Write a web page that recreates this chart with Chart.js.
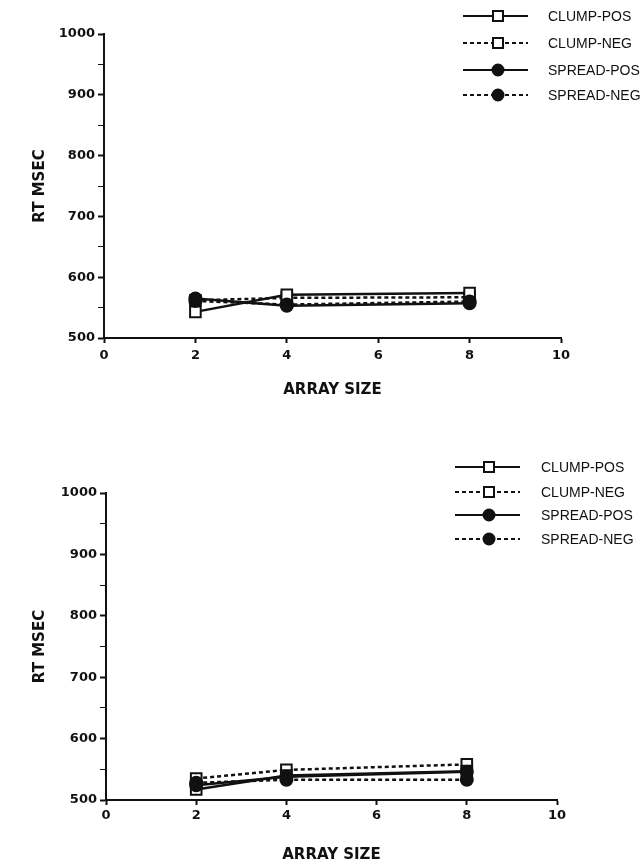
<!DOCTYPE html>
<html>
<head>
<meta charset="utf-8">
<script src="https://cdn.jsdelivr.net/npm/chart.js@4"></script>
<style>
  html, body { margin: 0; padding: 0; background: #fff; }
  #wrap { position: relative; width: 643px; height: 864px; }
  .panel { position: absolute; left: 0; width: 643px; height: 432px; }
</style>
</head>
<body>
<div id="wrap">
  <div class="panel" style="top:0"><canvas id="top"></canvas></div>
  <div class="panel" style="top:432px"><canvas id="bottom"></canvas></div>
</div>
<script>
// array sizes on the x axis
const arraySizes = [2, 4, 8];
const seriesNames = ['CLUMP-POS', 'CLUMP-NEG', 'SPREAD-POS', 'SPREAD-NEG'];

// upper panel (RT in msec)
const topClumpPos = [543, 571, 574];
const topClumpNeg = [562, 566, 567];
const topSpreadPos = [565, 553, 557];
const topSpreadNeg = [561, 555, 560];

// lower panel
const botClumpPos = [517, 540, 547];
const botClumpNeg = [535, 549, 558];
const botSpreadPos = [524, 538, 546];
const botSpreadNeg = [528, 533, 533];

const INK = '#111';
const FONT = "'DejaVu Sans', 'Liberation Sans', sans-serif";

function points(vals) {
  return vals.map((v, i) => ({ x: arraySizes[i], y: v }));
}

function makeDatasets(series) {
  // filled markers sit on top of the open squares
  const styles = [
    { dash: [], shape: 'rect', fill: '#fff', r: 7.5, order: 2 },
    { dash: [4, 3], shape: 'rect', fill: '#fff', r: 7.5, order: 2 },
    { dash: [], shape: 'circle', fill: INK, r: 6, order: 1 },
    { dash: [4, 3], shape: 'circle', fill: INK, r: 6, order: 1 },
  ];
  return series.map((vals, i) => ({
    label: seriesNames[i],
    data: points(vals),
    order: styles[i].order,
    borderColor: INK,
    borderWidth: 2.5,
    borderDash: styles[i].dash,
    pointStyle: styles[i].shape,
    pointRadius: styles[i].r,
    pointBorderWidth: 2,
    pointBackgroundColor: styles[i].fill,
    pointBorderColor: INK,
    tension: 0,
    fill: false,
  }));
}

// hand drawn legend: line sample with marker in the middle
const sampleLegend = {
  id: 'sampleLegend',
  afterDraw(chart, args, opts) {
    const ctx = chart.ctx;
    ctx.save();
    chart.data.datasets.forEach((ds, i) => {
      const y = opts.rows[i];
      const x1 = opts.x1, x2 = opts.x2, mx = opts.mx;
      ctx.strokeStyle = INK;
      ctx.lineWidth = 2;
      ctx.setLineDash(ds.borderDash);
      ctx.beginPath();
      ctx.moveTo(x1, y);
      ctx.lineTo(x2, y);
      ctx.stroke();
      ctx.setLineDash([]);
      ctx.fillStyle = ds.pointBackgroundColor;
      ctx.beginPath();
      if (ds.pointStyle === 'rect') {
        ctx.rect(mx - 5, y - 5, 10, 10);
      } else {
        ctx.arc(mx, y, 5.5, 0, Math.PI * 2);
      }
      ctx.fill();
      ctx.stroke();
      ctx.fillStyle = INK;
      ctx.font = "14px 'Liberation Sans', Arial, sans-serif";
      ctx.textBaseline = 'middle';
      ctx.fillText(ds.label, opts.tx, y + 1);
    });
    ctx.restore();
  }
};

function makeChart(id, series, box, legend) {
  return new Chart(document.getElementById(id), {
    type: 'line',
    data: { datasets: makeDatasets(series) },
    plugins: [sampleLegend],
    options: {
      responsive: true,
      maintainAspectRatio: false,
      animation: false,
      layout: { padding: { left: 0, top: box.top, right: box.right, bottom: box.bottom } },
      plugins: {
        legend: { display: false },
        tooltip: { enabled: false },
        sampleLegend: legend,
      },
      scales: {
        x: {
          type: 'linear',
          min: 0,
          max: 10,
          afterFit: s => { s.height = box.xh; },
          border: { color: INK, width: 2 },
          grid: { drawOnChartArea: false, tickLength: 5, tickColor: INK, tickWidth: 2 },
          ticks: { stepSize: 2, padding: box.xpad, color: INK, font: { family: FONT, size: 13, weight: 'bold' } },
          title: {
            display: true,
            text: 'ARRAY SIZE',
            color: INK,
            padding: { top: 0, bottom: 0 },
            font: { family: FONT, size: 15, weight: 'bold' },
          },
        },
        y: {
          min: 500,
          max: 1000,
          afterFit: s => { s.width = box.left; },
          border: { color: INK, width: 2 },
          grid: {
            drawOnChartArea: false,
            tickLength: 6,
            tickColor: INK,
            tickWidth: c => (c.tick && c.tick.value % 100 === 0 ? 2 : 1),
          },
          ticks: {
            stepSize: 50,
            padding: 3,
            color: INK,
            font: { family: FONT, size: 13, weight: 'bold' },
            callback: v => (v % 100 === 0 ? String(v) : ''),
          },
          title: {
            display: true,
            text: 'RT MSEC',
            color: INK,
            padding: { top: 31, bottom: 0 },
            font: { family: FONT, size: 15, weight: 'bold' },
          },
        },
      },
    },
  });
}

makeChart('top', [topClumpPos, topClumpNeg, topSpreadPos, topSpreadNeg],
  { left: 104, top: 34, right: 82, bottom: 33, xh: 61, xpad: 5 },
  { rows: [16, 43, 70, 95], x1: 463, x2: 528, mx: 498, tx: 548 });

makeChart('bottom', [botClumpPos, botClumpNeg, botSpreadPos, botSpreadNeg],
  { left: 106, top: 61, right: 86, bottom: 0, xh: 64, xpad: 3 },
  { rows: [35, 60, 83, 107], x1: 455, x2: 520, mx: 489, tx: 541 });
</script>
</body>
</html>
